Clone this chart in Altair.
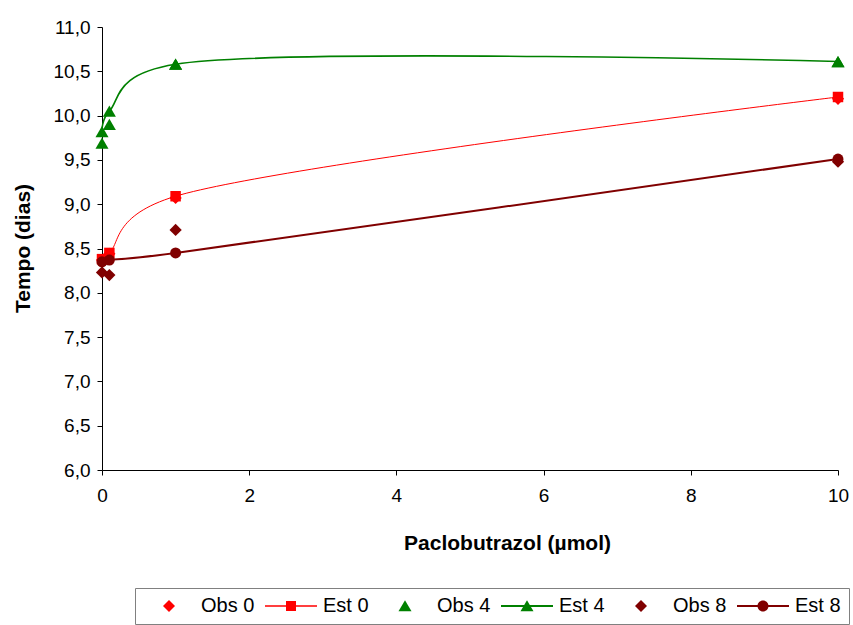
import altair as alt
import pandas as pd

# ---- data ----
x_vals = [0, 0.1, 1, 10]
obs0 = [8.37, 8.44, 9.07, 10.19]
est0 = [8.38, 8.45, 9.09, 10.21]
obs4 = [9.69, 9.90, 10.58, 10.61]
est4 = [9.82, 10.05, 10.58, 10.61]
obs8 = [8.23, 8.20, 8.71, 9.48]
est8 = [8.35, 8.37, 8.45, 9.51]

series_names = ["Obs 0", "Est 0", "Obs 4", "Est 4", "Obs 8", "Est 8"]
series_values = [obs0, est0, obs4, est4, obs8, est8]
series_colors = ["#FF0000", "#FF0000", "#008000", "#008000", "#800000", "#800000"]

x_ticks = [0, 2, 4, 6, 8, 10]
y_ticks = [6.0, 6.5, 7.0, 7.5, 8.0, 8.5, 9.0, 9.5, 10.0, 10.5, 11.0]

# ---- styles ----
marker_shape = {"Obs 0": "diamond", "Est 0": "square", "Obs 4": "triangle-up",
                "Est 4": "triangle-up", "Obs 8": "diamond", "Est 8": "circle"}
marker_size = {"Obs 0": 150, "Est 0": 110, "Obs 4": 170,
               "Est 4": 170, "Obs 8": 150, "Est 8": 120}
line_width = {"Est 0": 1.0, "Est 4": 1.6, "Est 8": 2.0}

# legend symbols, in units of 10 px (legend symbolSize 400); the marker sits
# in the middle of a 52 px wide line running from -1 to 4.2
def _diamond(cx, r):
    return f"M{cx},{-r}L{cx + r},0L{cx},{r}L{cx - r},0Z"

def _square(cx, r):
    return f"M{cx - r},{-r}H{cx + r}V{r}H{cx - r}Z"

def _triangle(cx, r):
    return f"M{cx},{-0.58}L{cx + r},0.52L{cx - r},0.52Z"

def _circle(cx, r):
    return f"M{cx + r},0A{r},{r} 0 1,1 {cx - r},0A{r},{r} 0 1,1 {cx + r},0Z"

def _line(t):
    return f"M-1,{-t}H4.2V{t}H-1Z "

MID = 1.6
legend_paths = [
    _diamond(MID, 0.6),
    _line(0.07) + _square(MID, 0.5),
    _triangle(MID, 0.65),
    _line(0.09) + _triangle(MID, 0.65),
    _diamond(MID, 0.6),
    _line(0.11) + _circle(MID, 0.55),
]

rows = []
for name, vals in zip(series_names, series_values):
    for xv, yv in zip(x_vals, vals):
        rows.append({"series": name, "x": xv, "y": yv})
df = pd.DataFrame(rows)

FONT = "Liberation Sans"

x_enc = alt.X(
    "x:Q",
    scale=alt.Scale(domain=[0, 10], nice=False, zero=False),
    axis=alt.Axis(
        values=x_ticks, format="d", grid=False, tickSize=5, labelPadding=11,
        labelFlush=False,
        domainColor="black", tickColor="black", labelColor="black",
        labelFont=FONT, labelFontSize=19,
        title="Paclobutrazol (µmol)", titleFont=FONT, titleFontSize=21,
        titleFontWeight="bold", titleColor="black",
        titleX=405, titleY=73, titleAlign="center", titleBaseline="middle",
    ),
)
y_enc = alt.Y(
    "y:Q",
    scale=alt.Scale(domain=[6, 11], nice=False, zero=False),
    axis=alt.Axis(
        values=y_ticks, grid=False, tickSize=5, labelPadding=7,
        labelExpr="replace(format(datum.value, '.1f'), '.', ',')",
        domainColor="black", tickColor="black", labelColor="black",
        labelFont=FONT, labelFontSize=19,
        title="Tempo (dias)", titleFont=FONT, titleFontSize=21,
        titleFontWeight="bold", titleColor="black", titleAngle=270,
        titleX=-79, titleY=221, titleAlign="center", titleBaseline="middle",
    ),
)

base = alt.Chart(df)
layers = []
for name, col in zip(series_names, series_colors):
    sub = base.transform_filter(alt.datum.series == name)
    if name.startswith("Est"):
        layers.append(
            sub.mark_line(interpolate="catmull-rom", tension=0.25, color=col,
                          strokeWidth=line_width[name]).encode(x=x_enc, y=y_enc)
        )
    layers.append(
        sub.mark_point(filled=True, opacity=1, color=col,
                       shape=marker_shape[name], size=marker_size[name]).encode(x=x_enc, y=y_enc)
    )

legend_props = dict(
    orient="none", legendX=33, legendY=561, direction="horizontal", columns=6,
    title=None, labelFont=FONT, labelFontSize=20, labelColor="black",
    labelOffset=38, columnPadding=10, padding=8,
    symbolSize=400, symbolStrokeWidth=0, symbolOpacity=1,
    strokeColor="#808080", fillColor="white",
)
legend_layer = base.mark_point(filled=True, opacity=0).encode(
    x=x_enc, y=y_enc,
    color=alt.Color("series:N", sort=series_names,
                    scale=alt.Scale(domain=series_names, range=series_colors),
                    legend=alt.Legend(**legend_props)),
    shape=alt.Shape("series:N", sort=series_names,
                    scale=alt.Scale(domain=series_names, range=legend_paths),
                    legend=alt.Legend(**legend_props)),
)

chart = alt.layer(legend_layer, *layers).properties(
    width=736, height=443,
    autosize=alt.AutoSizeParams(type="none"),
    padding={"left": 102, "top": 27, "right": 15, "bottom": 155},
    background="white",
).configure_view(stroke=None)

chart.save("out.html", embed_options={"renderer": "svg", "actions": False})
